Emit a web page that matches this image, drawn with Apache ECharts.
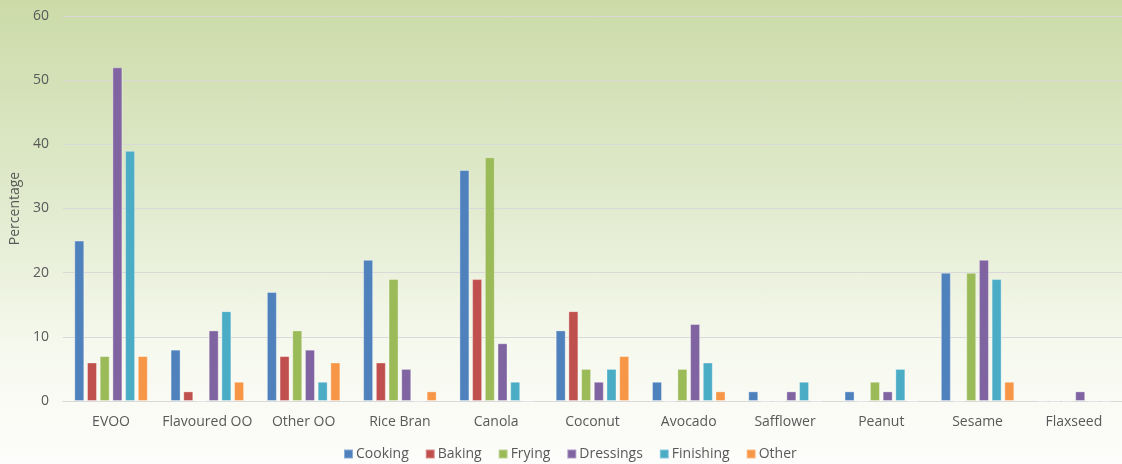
<!DOCTYPE html>
<html>
<head>
<meta charset="utf-8">
<script src="https://cdn.jsdelivr.net/npm/echarts@6/dist/echarts.min.js"></script>
<style>
  html, body { margin: 0; padding: 0; }
  #chart {
    width: 1122px; height: 464px;
    background: linear-gradient(to bottom, #cbdba8 0%, #e2ebcf 45%, #f6f9ee 75%, #fdfdfb 100%);
  }
</style>
</head>
<body>
<div id="chart"></div>
<script>
// Oil types and how each one is used (percent of respondents)
const categories = ['EVOO', 'Flavoured OO', 'Other OO', 'Rice Bran', 'Canola', 'Coconut', 'Avocado', 'Safflower', 'Peanut', 'Sesame', 'Flaxseed'];
const cooking   = [25, 8, 17, 22, 36, 11, 3, 1.5, 1.5, 20, 0];
const baking    = [6, 1.5, 7, 6, 19, 14, 0, 0, 0, 0, 0];
const frying    = [7, 0, 11, 19, 38, 5, 5, 0, 3, 20, 0];
const dressings = [52, 11, 8, 5, 9, 3, 12, 1.5, 1.5, 22, 1.5];
const finishing = [39, 14, 3, 0, 3, 5, 6, 3, 5, 19, 0];
const other     = [7, 3, 6, 1.5, 0, 7, 1.5, 0, 0, 3, 0];
const yTicks = [0, 10, 20, 30, 40, 50, 60];

const seriesDefs = [
  ['Cooking', cooking, '#4f81bd'],
  ['Baking', baking, '#c0504d'],
  ['Frying', frying, '#9bbb59'],
  ['Dressings', dressings, '#8064a2'],
  ['Finishing', finishing, '#4bacc6'],
  ['Other', other, '#f79646']
];

const font = '"Open Sans", Lato, sans-serif';
const chart = echarts.init(document.getElementById('chart'));
chart.setOption({
  animation: false,
  textStyle: { fontFamily: font },
  grid: { left: 58, right: -3, top: 16, bottom: 63, containLabel: false },
  legend: {
    bottom: -2, left: 338,
    itemWidth: 9, itemHeight: 9, itemGap: 16,
    icon: 'rect',
    textStyle: { color: '#595959', fontSize: 14, fontFamily: font, padding: [0, 0, 0, -2] },
    data: seriesDefs.map(d => d[0])
  },
  xAxis: {
    type: 'category',
    data: categories,
    axisLine: { lineStyle: { color: '#d9d9d9', width: 1 } },
    axisTick: { show: false },
    axisLabel: { color: '#595959', fontSize: 14, margin: 14, interval: 0, fontFamily: font }
  },
  yAxis: {
    type: 'value',
    min: yTicks[0], max: yTicks[yTicks.length - 1], interval: 10,
    name: 'Percentage',
    nameLocation: 'middle',
    nameGap: 38,
    nameRotate: 90,
    nameTextStyle: { color: '#595959', fontSize: 14, fontFamily: font },
    axisLine: { show: false },
    axisTick: { show: false },
    axisLabel: { color: '#595959', fontSize: 14, margin: 14, fontFamily: font },
    splitLine: { lineStyle: { color: '#d9d9d9', width: 1 } }
  },
  series: seriesDefs.map(([name, data, color]) => ({
    name, type: 'bar', data,
    barWidth: 10,
    barGap: '27%',
    itemStyle: { color, borderColor: 'rgba(255,255,255,0.35)', borderWidth: 1 }
  }))
});
</script>
</body>
</html>
